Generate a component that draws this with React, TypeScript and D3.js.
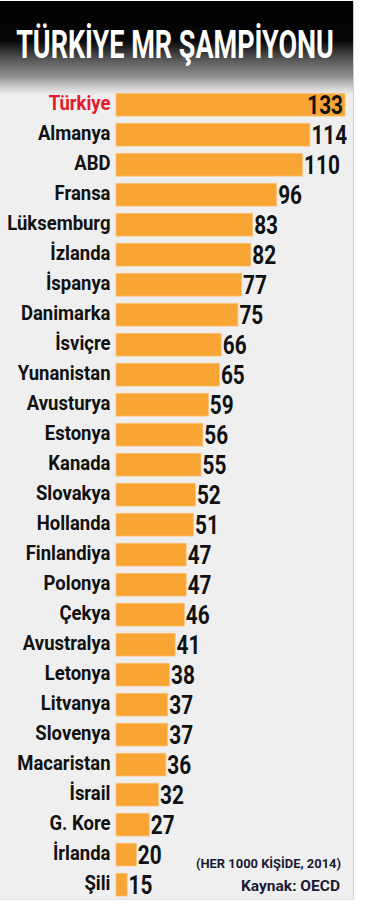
import React from "react";
import * as d3 from "d3";

const countries = [
  "Türkiye", "Almanya", "ABD", "Fransa", "Lüksemburg", "İzlanda", "İspanya",
  "Danimarka", "İsviçre", "Yunanistan", "Avusturya", "Estonya", "Kanada",
  "Slovakya", "Hollanda", "Finlandiya", "Polonya", "Çekya", "Avustralya",
  "Letonya", "Litvanya", "Slovenya", "Macaristan", "İsrail", "G. Kore",
  "İrlanda", "Şili",
];
const values = [
  133, 114, 110, 96, 83, 82, 77, 75, 66, 65, 59, 56, 55, 52, 51, 47, 47, 46,
  41, 38, 37, 37, 36, 32, 27, 20, 15,
];
const highlight = ["Türkiye"];
const title = "TÜRKİYE MR ŞAMPİYONU";
const unitNote = "(HER 1000 KİŞİDE, 2014)";
const sourceNote = "Kaynak: OECD";

const W = 365;
const H = 906;
const FONT = "Roboto, 'Noto Sans', 'DejaVu Sans', sans-serif";

export default function App() {
  const x = d3.scaleLinear().domain([9, 133]).range([116, 345]);
  const y = d3
    .scaleBand<string>()
    .domain(countries)
    .range([93.3, 896])
    .paddingInner(0.24)
    .paddingOuter(0);
  const bw = y.bandwidth();
  const maxV = d3.max(values) as number;

  return (
    <svg
      width={W}
      height={H}
      style={{ position: "absolute", left: 0, top: 0, background: "#fff" }}
    >
      <defs>
        <linearGradient id="hdr" x1="0" y1="0" x2="0" y2="1">
          <stop offset="0" stopColor="#000" />
          <stop offset="0.42" stopColor="#060606" />
          <stop offset="0.63" stopColor="#5a5a5a" />
          <stop offset="0.8" stopColor="#8e8e8e" />
          <stop offset="0.92" stopColor="#cfcfcf" />
          <stop offset="1" stopColor="#efefef" />
        </linearGradient>
      </defs>
      <rect x={0} y={1} width={353} height={898} fill="#efefef" />
      <rect x={0} y={1} width={353} height={94} fill="url(#hdr)" />
      <line x1={353.5} x2={353.5} y1={1} y2={899} stroke="#cfcfcf" />
      <line x1={0} x2={353.5} y1={899.5} y2={899.5} stroke="#e2e2e2" />
      <text
        transform="translate(175,57.5) scale(0.9,1.27)"
        textAnchor="middle"
        fill="#fff"
        fontFamily={FONT}
        fontWeight={700}
        fontSize={30}
      >
        {title}
      </text>

      {countries.map((c, i) => {
        const v = values[i];
        const y0 = y(c) as number;
        const cy = y0 + bw / 2;
        const xe = x(v);
        const inside = v === maxV;
        return (
          <g key={c}>
            <rect
              x={x(9)}
              y={y0}
              width={xe - x(9)}
              height={bw}
              fill="#F8A534"
              stroke="#fbc27a"
              strokeWidth={0.8}
            />
            <text
              transform={`translate(110.5,${cy + 5.5}) scale(0.88,1)`}
              textAnchor="end"
              fontFamily={FONT}
              fontWeight={700}
              fontSize={21}
              fill={highlight.includes(c) ? "#e31b2b" : "#111"}
            >
              {c}
            </text>
            <text
              transform={`translate(${inside ? xe - 2 : xe + 1.5},${
                cy + 9.5
              }) scale(0.8,1)`}
              textAnchor={inside ? "end" : "start"}
              fontFamily={FONT}
              fontWeight={700}
              fontSize={26}
              fill="#111"
            >
              {v}
            </text>
          </g>
        );
      })}

      <text
        x={341}
        y={867.5}
        textAnchor="end"
        fontFamily={FONT}
        fontWeight={700}
        fontSize={12.5}
        fill="#1a1a33"
        textLength={145}
        lengthAdjust="spacingAndGlyphs"
      >
        {unitNote}
      </text>
      <text
        x={340}
        y={891}
        textAnchor="end"
        fontFamily={FONT}
        fontWeight={700}
        fontSize={15}
        fill="#1a1a33"
        textLength={99}
        lengthAdjust="spacingAndGlyphs"
      >
        {sourceNote}
      </text>
    </svg>
  );
}
